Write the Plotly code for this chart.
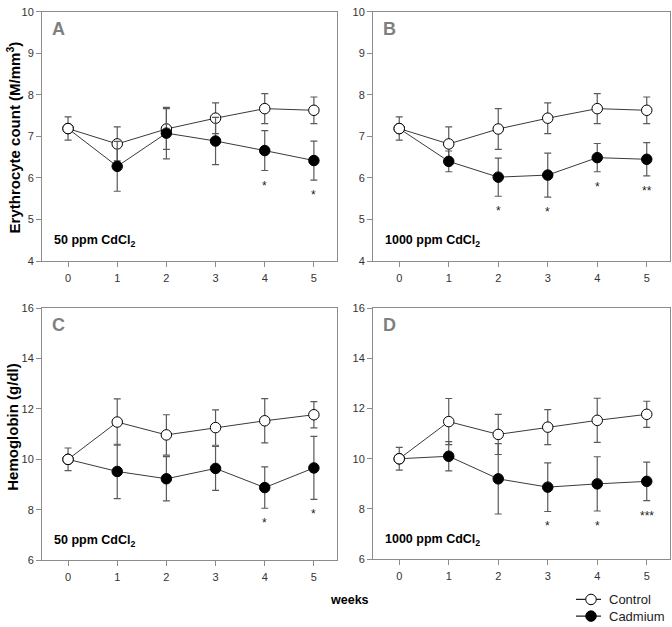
import plotly.graph_objects as go

weeks = [0, 1, 2, 3, 4, 5]

# erythrocyte count (M/mm3)
rbc_control = [7.19, 6.82, 7.18, 7.44, 7.67, 7.63]
rbc_control_sd = [0.28, 0.41, 0.49, 0.37, 0.36, 0.32]
rbc_cd50 = [7.19, 6.28, 7.08, 6.89, 6.66, 6.42]
rbc_cd50_sd = [0, 0.60, 0.62, 0.57, 0.48, 0.47]
rbc_cd1000 = [7.19, 6.40, 6.02, 6.07, 6.49, 6.45]
rbc_cd1000_sd = [0, 0.25, 0.46, 0.53, 0.34, 0.40]

# hemoglobin (g/dl)
hb_control = [10.0, 11.48, 10.97, 11.26, 11.53, 11.77]
hb_control_sd = [0.45, 0.92, 0.80, 0.70, 0.88, 0.52]
hb_cd50 = [10.0, 9.52, 9.23, 9.64, 8.88, 9.66]
hb_cd50_sd = [0, 1.08, 0.88, 0.87, 0.82, 1.25]
hb_cd1000 = [10.0, 10.10, 9.20, 8.87, 9.00, 9.10]
hb_cd1000_sd = [0, 0.58, 1.40, 0.97, 1.08, 0.77]

# significance marks under the cadmium points
stars_a = ["", "", "", "", "*", "*"]
stars_b = ["", "", "*", "*", "*", "**"]
stars_c = ["", "", "", "", "*", "*"]
stars_d = ["", "", "", "*", "*", "***"]

series_names = ["Control", "Cadmium"]
series_fills = ["white", "black"]

W, H = 672, 627
FONT = "Liberation Sans, Arial, sans-serif"
LINE = "#3a3a3a"
ERR = "#5a5a5a"
FRAME = "#8c8c8c"
MSIZE = 10.5

# panel boxes in pixels: left, right, top, bottom
boxes = {
    "A": (42, 337, 6, 260),
    "B": (373, 670, 6, 260),
    "C": (42, 337, 308, 565),
    "D": (373, 670, 308, 564),
}
panels = [
    ("A", rbc_control, rbc_control_sd, rbc_cd50, rbc_cd50_sd, stars_a, "50 ppm CdCl<sub>2</sub>", [4, 10], 1),
    ("B", rbc_control, rbc_control_sd, rbc_cd1000, rbc_cd1000_sd, stars_b, "1000 ppm CdCl<sub>2</sub>", [4, 10], 1),
    ("C", hb_control, hb_control_sd, hb_cd50, hb_cd50_sd, stars_c, "50 ppm CdCl<sub>2</sub>", [6, 16], 2),
    ("D", hb_control, hb_control_sd, hb_cd1000, hb_cd1000_sd, stars_d, "1000 ppm CdCl<sub>2</sub>", [6, 16], 2),
]

fig = go.Figure()
annotations = []
layout = {}

for i, (letter, ctl, ctl_sd, cd, cd_sd, stars, dose, yrange, dtick) in enumerate(panels):
    n = "" if i == 0 else str(i + 1)
    xa, ya = "x" + n, "y" + n
    l, r, t, b = boxes[letter]
    layout["xaxis" + n] = dict(
        domain=[l / W, r / W], range=[-0.53, 5.47], anchor=ya,
        tickmode="array", tickvals=weeks, ticks="outside", ticklen=5,
        ticklabelstandoff=2,
        tickcolor=FRAME, showline=True, linecolor=FRAME, mirror=True,
        showgrid=False, zeroline=False,
        tickfont=dict(size=11, color="#333", family=FONT),
    )
    layout["yaxis" + n] = dict(
        domain=[1 - b / H, 1 - t / H], range=yrange, anchor=xa,
        dtick=dtick, ticks="outside", ticklen=5,
        tickcolor=FRAME, showline=True, linecolor=FRAME, mirror=True,
        showgrid=False, zeroline=False,
        tickfont=dict(size=11, color="#333", family=FONT),
    )
    fig.add_trace(go.Scatter(
        x=weeks, y=ctl, mode="lines+markers", name="Control", showlegend=False,
        xaxis=xa, yaxis=ya,
        line=dict(color=LINE, width=1),
        marker=dict(size=MSIZE, color="white", line=dict(color="black", width=1)),
        error_y=dict(type="data", array=ctl_sd, color=ERR, thickness=1.2, width=3.5),
    ))
    fig.add_trace(go.Scatter(
        x=weeks, y=cd, mode="lines+markers", name="Cadmium", showlegend=False,
        xaxis=xa, yaxis=ya,
        line=dict(color=LINE, width=1),
        marker=dict(size=MSIZE, color=["white"] + ["black"] * 5,
                    line=dict(color="black", width=1)),
        error_y=dict(type="data", array=cd_sd, color=ERR, thickness=1.2, width=3.5),
    ))
    for w, m, s, st in zip(weeks, cd, cd_sd, stars):
        if st:
            annotations.append(dict(
                x=w, y=m - s, xref=xa, yref=ya, text=st, showarrow=False,
                yanchor="top", yshift=-6,
                font=dict(size=12, color="#222", family=FONT),
            ))
    annotations.append(dict(
        x=(l + 16) / W, y=1 - (t + 17) / H, xref="paper", yref="paper",
        text="<b>%s</b>" % letter, showarrow=False, xanchor="center", yanchor="middle",
        font=dict(size=18, color="#7f7f7f", family=FONT),
    ))
    annotations.append(dict(
        x=(l + 10) / W, y=1 - (b - 20) / H, xref="paper", yref="paper",
        text="<b>%s</b>" % dose, showarrow=False, xanchor="left", yanchor="middle",
        font=dict(size=12.5, color="black", family=FONT),
    ))

# hand-made legend on a hidden little axis (rows: Control on top, Cadmium below)
# the axis spans 597..627 px; rows sit at 605 and 622 px (17 px per unit)
layout["xaxis5"] = dict(domain=[576 / W, 601 / W], range=[0, 1], visible=False,
                        anchor="y5", fixedrange=True)
layout["yaxis5"] = dict(domain=[0, 1 - 597 / H], range=[-5 / 17, 1 + 8 / 17],
                        visible=False, anchor="x5", fixedrange=True)
for row, (name, fill) in enumerate(zip(series_names, series_fills)):
    yrow = 1 - row
    fig.add_trace(go.Scatter(
        x=[0, 1], y=[yrow, yrow], mode="lines", showlegend=False,
        xaxis="x5", yaxis="y5", line=dict(color="#222", width=1.3), hoverinfo="skip",
    ))
    fig.add_trace(go.Scatter(
        x=[0.6], y=[yrow], mode="markers", showlegend=False, cliponaxis=False,
        xaxis="x5", yaxis="y5", hoverinfo="skip",
        marker=dict(size=MSIZE, color=fill, line=dict(color="black", width=1)),
    ))
    annotations.append(dict(
        x=607 / W, y=1 - (605 + 17 * row) / H, xref="paper", yref="paper",
        text=name, showarrow=False, xanchor="left", yanchor="middle",
        font=dict(size=13, color="#222", family=FONT),
    ))

annotations += [
    dict(x=13 / W, y=1 - 134 / H, xref="paper", yref="paper", textangle=-90,
         xanchor="center", yanchor="middle",
         text="<b>Erythrocyte count (M/mm<sup>3</sup>)</b>", showarrow=False,
         font=dict(size=15, color="black", family=FONT)),
    dict(x=13 / W, y=1 - 430 / H, xref="paper", yref="paper", textangle=-90,
         xanchor="center", yanchor="middle",
         text="<b>Hemoglobin (g/dl)</b>", showarrow=False,
         font=dict(size=15, color="black", family=FONT)),
    dict(x=349 / W, y=1 - 606 / H, xref="paper", yref="paper",
         xanchor="center", yanchor="middle",
         text="<b>weeks</b>", showarrow=False,
         font=dict(size=12.5, color="black", family=FONT)),
]

fig.update_layout(
    width=W, height=H,
    margin=dict(l=0, r=0, t=0, b=0),
    plot_bgcolor="white", paper_bgcolor="white",
    annotations=annotations,
    showlegend=False,
    **layout,
)

fig.write_html("out.html", config={"displayModeBar": False},
               post_script="document.body.style.margin='0';")
